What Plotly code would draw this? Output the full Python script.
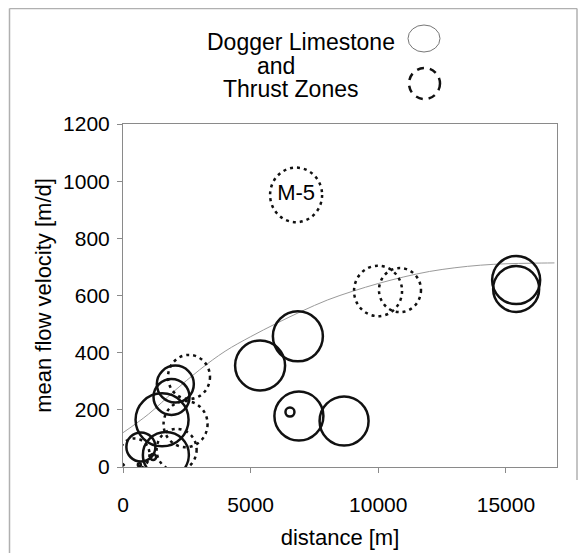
import plotly.graph_objects as go

# ---------------- data ----------------
# Dogger Limestone (solid circles): distance [m], mean flow velocity [m/d], bubble size
dl_x = [15400, 15400, 6850, 5370, 6890, 8660, 2050, 1900, 1530, 700, 1680, 6540, 1180, 640]
dl_y = [654, 623, 457, 355, 178, 161, 290, 245, 165, 70, 42, 192, 35, 8]
dl_size = [48, 46, 50, 50, 49, 49, 37, 36, 53, 29, 46, 9, 6, 3]

# Thrust Zones (dotted circles)
tz_x = [6780, 9990, 10850, 2585, 2450, 450, 2100]
tz_y = [952, 616, 619, 315, 150, 45, 60]
tz_size = [52, 48, 42, 42, 44, 30, 40]
tz_label = ["M-5", "", "", "", "", "", ""]

# trend curve
trend_x = [0, 1000, 2000, 3000, 4000, 5000, 6000, 7000, 8000, 9000, 10000,
           11000, 12000, 13000, 14000, 15000, 16000, 16900]
trend_y = [120, 185, 265, 340, 405, 456, 502, 545, 584, 615, 642,
           665, 684, 697, 706, 711, 713, 714]

x_ticks = [0, 5000, 10000, 15000]
y_ticks = [0, 200, 400, 600, 800, 1000, 1200]

FONT = "Liberation Sans, Arial, sans-serif"
OFF = 8                      # page body margin of the html page
W, H = 587 - OFF, 553 - OFF
ML, MT = 123 - OFF, 124 - OFF
MR = W - (557 - OFF)
MB = H - (467 - OFF)
PW, PH = W - ML - MR, H - MT - MB


def px2paper_x(px):
    return (px - OFF - ML) / PW


def px2paper_y(py):
    return (MT + PH - (py - OFF)) / PH


fig = go.Figure()

fig.add_trace(go.Scatter(
    x=trend_x, y=trend_y, mode="lines", line=dict(color="#9a9a9a", width=1, shape="spline"),
    hoverinfo="skip", showlegend=False))

fig.add_trace(go.Scatter(
    x=dl_x, y=dl_y, mode="markers", name="Dogger Limestone",
    marker=dict(symbol="circle-open", size=dl_size, color="#111111", opacity=1,
                line=dict(color="#111111", width=2.5)),
    showlegend=False))

fig.add_trace(go.Scatter(
    x=tz_x, y=tz_y, mode="text", name="Thrust Zones", text=tz_label,
    textfont=dict(family=FONT, size=22, color="black"), textposition="middle center",
    showlegend=False))

shapes = []
for x, y, s in zip(tz_x, tz_y, tz_size):
    r = s / 2
    shapes.append(dict(type="circle", xref="x", yref="y", xsizemode="pixel", ysizemode="pixel",
                       xanchor=x, yanchor=y, x0=-r, x1=r, y0=-r * 1.05, y1=r * 1.05,
                       line=dict(color="#111111", width=2.5, dash="3px,4px")))

# outer picture frame
frame_col = "#b0b0b0"
shapes.append(dict(type="line", xref="paper", yref="paper",
                   x0=px2paper_x(9.5), x1=px2paper_x(9.5), y0=px2paper_y(8.5), y1=px2paper_y(560),
                   line=dict(color=frame_col, width=1.5)))
shapes.append(dict(type="line", xref="paper", yref="paper",
                   x0=px2paper_x(9.5), x1=px2paper_x(577), y0=px2paper_y(8.5), y1=px2paper_y(8.5),
                   line=dict(color=frame_col, width=1.5)))
shapes.append(dict(type="line", xref="paper", yref="paper",
                   x0=px2paper_x(577), x1=px2paper_x(577), y0=px2paper_y(8.5), y1=px2paper_y(480),
                   line=dict(color=frame_col, width=1.5)))

# legend symbols
shapes.append(dict(type="circle", xref="paper", yref="paper",
                   x0=px2paper_x(408), x1=px2paper_x(440), y0=px2paper_y(52), y1=px2paper_y(25),
                   line=dict(color="#777777", width=1)))
shapes.append(dict(type="circle", xref="paper", yref="paper",
                   x0=px2paper_x(409), x1=px2paper_x(440), y0=px2paper_y(99), y1=px2paper_y(68),
                   line=dict(color="#111111", width=2.5, dash="7px,6px")))

annotations = [
    dict(text="Dogger Limestone", x=px2paper_x(301), y=px2paper_y(42)),
    dict(text="and", x=px2paper_x(276), y=px2paper_y(66)),
    dict(text="Thrust Zones", x=px2paper_x(291), y=px2paper_y(89)),
]
for a in annotations:
    a.update(xref="paper", yref="paper", showarrow=False, xanchor="center", yanchor="middle",
             font=dict(family=FONT, size=23, color="black"))

axis_common = dict(showgrid=False, zeroline=False, showline=True, linecolor="#8a8a8a",
                   linewidth=1, mirror=True, ticks="outside", ticklen=5, tickcolor="#8a8a8a",
                   automargin=False,
                   tickfont=dict(family=FONT, size=21, color="black"))

fig.update_layout(
    width=W, height=H,
    margin=dict(l=ML, r=MR, t=MT, b=MB),
    paper_bgcolor="white", plot_bgcolor="white",
    shapes=shapes, annotations=annotations,
    showlegend=False,
    xaxis=dict(range=[0, 17000], tickvals=x_ticks, ticktext=[str(v) for v in x_ticks],
               ticklabelstandoff=14,
               title=dict(text="distance [m]", font=dict(family=FONT, size=22, color="black"),
                          standoff=14),
               **axis_common),
    yaxis=dict(range=[0, 1200], tickvals=y_ticks, ticktext=[str(v) for v in y_ticks],
               ticklabelstandoff=3,
               title=dict(text="mean flow velocity [m/d]",
                          font=dict(family=FONT, size=22, color="black"), standoff=5),
               **axis_common),
)

fig.write_html("out.html")
